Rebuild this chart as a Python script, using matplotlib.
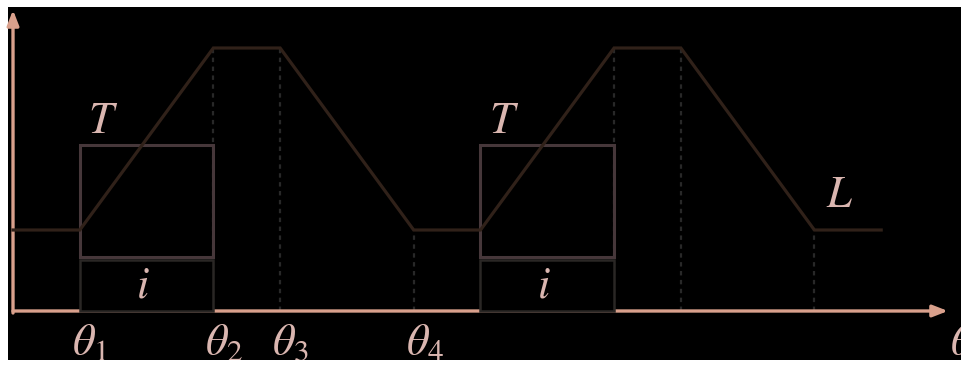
import matplotlib.pyplot as plt
from matplotlib.patches import Rectangle

plt.rcParams['mathtext.fontset'] = 'stix'

# angle marks (one unit = a sixth of a period), two periods
theta_on = [1, 7]        # theta1
theta_full = [3, 9]      # theta2
theta_off = [4, 10]      # theta3
theta_low = [6, 12]      # theta4
theta_end = 13

# levels
L_level = 0.81
peak = 2.63
T_top = 1.66
T_bottom = 0.54
i_top = 0.51

tick_names = [r'$\theta_1$', r'$\theta_2$', r'$\theta_3$', r'$\theta_4$']

axis_col = '#d9a08c'
trap_col = '#302119'
boxT_col = '#46373a'
boxi_col = '#2a2725'
dot_col = '#282828'
text_col = '#dab6b0'

fig = plt.figure(figsize=(9.62, 3.66), dpi=100)
fig.patch.set_facecolor('white')
ax = fig.add_axes([8 / 962, 6 / 366, 954 / 962, 353 / 366])
ax.set_facecolor('black')
ax.set_xlim(-0.075, 14.21)
ax.set_ylim(-0.49, 3.04)
ax.axis('off')
ax.add_patch(Rectangle((-0.075, -0.49), 14.3, 3.6, color='black', zorder=0))

# trapezoid line L
xs = [0]
ys = [L_level]
for a, b, c, d in zip(theta_on, theta_full, theta_off, theta_low):
    xs += [a, b, c, d]
    ys += [L_level, peak, peak, L_level]
xs.append(theta_end)
ys.append(L_level)
ax.plot(xs, ys, color=trap_col, lw=2.3, zorder=3, solid_joinstyle='miter')

# dotted verticals
for b, c, d in zip(theta_full, theta_off, theta_low):
    ax.plot([b, b], [0, peak], color=dot_col, lw=1.6, ls=(0, (2, 2)), zorder=1)
    ax.plot([c, c], [0, peak], color=dot_col, lw=1.6, ls=(0, (2, 2)), zorder=1)
    ax.plot([d, d], [0, L_level], color=dot_col, lw=1.6, ls=(0, (2, 2)), zorder=1)

# axes arrows
ax.annotate('', xy=(14.0, 0), xytext=(0, 0),
            arrowprops=dict(arrowstyle='-|>,head_length=0.9,head_width=0.35',
                            color=axis_col, lw=2.4, shrinkA=0, shrinkB=0), zorder=2)
ax.annotate('', xy=(0, 3.01), xytext=(0, -0.02),
            arrowprops=dict(arrowstyle='-|>,head_length=0.9,head_width=0.35',
                            color=axis_col, lw=2.4, shrinkA=0, shrinkB=0), zorder=2)

# T and i boxes
for a, b in zip(theta_on, theta_full):
    ax.add_patch(Rectangle((a, T_bottom), b - a, T_top - T_bottom, fill=False,
                           ec=boxT_col, lw=2.2, zorder=2))
    ax.add_patch(Rectangle((a, 0), b - a, i_top, fc='black', ec=boxi_col,
                           lw=1.8, zorder=2.5))
    ax.text(a + 0.12, 1.78, '$T$', fontsize=32, color=text_col, ha='left',
            va='baseline', zorder=4)
    ax.text((a + b) / 2 - 0.05, 0.14, '$i$', fontsize=32, color=text_col,
            ha='center', va='baseline', zorder=4)

ax.text(12.18, 1.04, '$L$', fontsize=32, color=text_col, ha='left', va='baseline')

# angle labels, clipped by the dark panel
label_x = [theta_on[0], theta_full[0], theta_off[0], theta_low[0]]
for name, xpos in zip(tick_names, label_x):
    t = ax.text(xpos - 0.12, -0.44, name, fontsize=32, color=text_col,
                ha='left', va='baseline')
    t.set_clip_on(True)
t = ax.text(14.03, -0.44, r'$\theta$', fontsize=32, color=text_col,
            ha='left', va='baseline')
t.set_clip_on(True)

fig.savefig('out.png', dpi=100, facecolor=fig.get_facecolor())
